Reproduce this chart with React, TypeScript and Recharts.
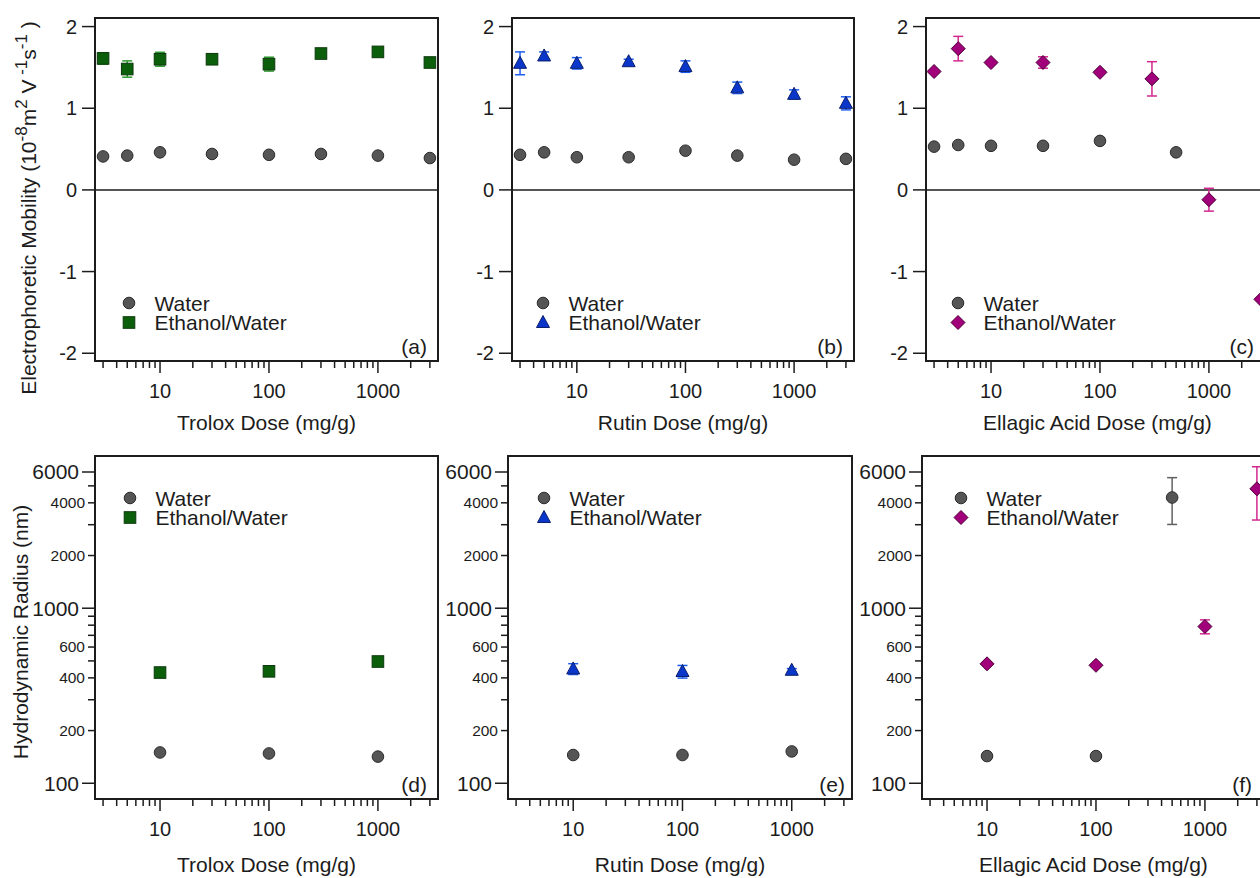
import React from 'react'
import { ScatterChart, Scatter, XAxis, YAxis, ErrorBar, ReferenceArea, ReferenceLine, Legend } from 'recharts'

const FONT = '"Liberation Sans", Arial, Helvetica, sans-serif'
const INK = '#1c1c1c'

// shared axes
const doseDomain = [2.53, 3560]
const doseTicks = [3, 4, 5, 6, 7, 8, 9, 10, 20, 30, 40, 50, 60, 70, 80, 90, 100, 200, 300, 400, 500, 600, 700, 800, 900, 1000, 2000, 3000]
const doseLabels = [10, 100, 1000]
const mobilityDomain = [-2.095, 2.105]
const mobilityTicks = [-2, -1, 0, 1, 2]
const radiusDomain = [81.3, 7406]
const radiusTicks = [100, 200, 300, 400, 500, 600, 700, 800, 900, 1000, 2000, 3000, 4000, 5000, 6000]
const radiusBigLabels = [100, 1000, 6000]
const radiusSmallLabels = [200, 400, 600, 2000, 4000]

// electrophoretic mobility (10^-8 m2 V-1 s-1)
const mobilityDose = [3, 5, 10, 30, 100, 300, 1000, 3000]
const troloxWaterMob = [0.41, 0.42, 0.46, 0.44, 0.43, 0.44, 0.42, 0.39]
const troloxEthMob = [1.61, 1.48, 1.60, 1.60, 1.54, 1.67, 1.69, 1.56]
const troloxEthMobErr = [0.07, 0.1, 0.085, 0.05, 0.085, 0.02, 0.02, 0.02]
const rutinWaterMob = [0.43, 0.46, 0.40, 0.40, 0.48, 0.42, 0.37, 0.38]
const rutinEthMob = [1.55, 1.64, 1.55, 1.57, 1.51, 1.25, 1.17, 1.06]
const rutinEthMobErr = [0.14, 0.05, 0.07, 0.03, 0.07, 0.07, 0.055, 0.08]
const ellagicWaterMobDose = [3, 5, 10, 30, 100, 500]
const ellagicWaterMob = [0.53, 0.55, 0.54, 0.54, 0.60, 0.46]
const ellagicEthMob = [1.45, 1.73, 1.56, 1.56, 1.44, 1.36, -0.12, -1.34]
const ellagicEthMobErr = [0.02, 0.15, 0.02, 0.07, 0.02, 0.21, 0.14, 0.02]

// hydrodynamic radius (nm)
const radiusDose = [10, 100, 1000]
const troloxWaterRad = [150, 148, 142]
const troloxEthRad = [429, 436, 496]
const troloxEthRadErr = [8, 8, 8]
const rutinWaterRad = [145, 145, 152]
const rutinEthRad = [450, 435, 442]
const rutinEthRadErr = [32, 36, 10]
const ellagicWaterRadDose = [10, 100, 500]
const ellagicWaterRad = [143, 143, 4290]
const ellagicWaterRadErr = [0, 0, 1280]
const ellagicEthRadDose = [10, 100, 1000, 3000]
const ellagicEthRad = [481, 472, 786, 4810]
const ellagicEthRadErr = [10, 10, 72, 1620]

const water = { name: 'Water', kind: 'circle', fill: '#555555', stroke: '#2a2a2a', errColor: '#606060' }
const green = { name: 'Ethanol/Water', kind: 'square', fill: '#0b5f0b', stroke: '#0c380c', errColor: '#2f9a2f' }
const blue = { name: 'Ethanol/Water', kind: 'triangle', fill: '#0a37c9', stroke: '#0b1f6e', errColor: '#1c5cf0' }
const magenta = { name: 'Ethanol/Water', kind: 'diamond', fill: '#a1007a', stroke: '#4d0037', errColor: '#d2288f' }

const zip = (x: number[], y: number[], err?: number[]) => x.map((v, i) => ({ x: v, y: y[i], err: err ? err[i] : 0 }))

const Marker = ({ cx, cy, s }: any) => {
    const common = { fill: s.fill, stroke: s.stroke, strokeWidth: 1 }
    if (s.kind === 'circle') return <circle cx={cx} cy={cy} r={5.8} {...common} />
    if (s.kind === 'square') return <rect x={cx - 5.8} y={cy - 5.8} width={11.6} height={11.6} {...common} />
    if (s.kind === 'triangle') return <polygon points={`${cx},${cy - 7} ${cx + 6.5},${cy + 5} ${cx - 6.5},${cy + 5}`} {...common} />
    return <polygon points={`${cx},${cy - 7} ${cx + 7},${cy} ${cx},${cy + 7} ${cx - 7},${cy}`} {...common} />
}

const DoseTick = (props: any) => {
    const { x, y, payload } = props
    const v = payload?.value
    const major = doseLabels.includes(v)
    return (
        <g>
            <line x1={x} x2={x} y1={y} y2={y + (major ? 12 : 7)} stroke={INK} strokeWidth={1.5} />
            {major && <text x={x} y={y + 37} textAnchor="middle" fontSize={20} fill={INK} fontFamily={FONT}>{v}</text>}
        </g>
    )
}

const MobTick = (props: any) => {
    const { x, y, payload } = props
    return (
        <g>
            <line x1={x - 13} x2={x} y1={y} y2={y} stroke={INK} strokeWidth={1.5} />
            <text x={x - 18} y={y} dy="0.35em" textAnchor="end" fontSize={20} fill={INK} fontFamily={FONT}>{payload?.value}</text>
        </g>
    )
}

const RadTick = (props: any) => {
    const { x, y, payload } = props
    const v = payload?.value
    const big = radiusBigLabels.includes(v)
    const small = radiusSmallLabels.includes(v)
    return (
        <g>
            <line x1={x - (big ? 13 : 7)} x2={x} y1={y} y2={y} stroke={INK} strokeWidth={1.5} />
            {big && <text x={x - 16} y={y} dy="0.35em" textAnchor="end" fontSize={21} fill={INK} fontFamily={FONT}>{v}</text>}
            {small && <text x={x - 10} y={y} dy="0.35em" textAnchor="end" fontSize={15.5} fill={INK} fontFamily={FONT}>{v}</text>}
        </g>
    )
}

const XTitle = ({ viewBox, text, dy }: any) => (
    <text x={viewBox.x + viewBox.width / 2} y={viewBox.y + dy} textAnchor="middle" fontSize={21} fill={INK} fontFamily={FONT}>{text}</text>
)

const MobilityTitle = ({ viewBox }: any) => (
    <text transform={`translate(${viewBox.x + 31},${viewBox.y + 190}) rotate(-90)`} textAnchor="middle" fontSize={21} fill={INK} fontFamily={FONT}>
        Electrophoretic Mobility (10<tspan dy={-9} fontSize={17}>-8</tspan><tspan dy={9}>m</tspan><tspan dy={-9} fontSize={17}>2</tspan><tspan dy={9}> V</tspan><tspan dy={-9} fontSize={17}> -1</tspan><tspan dy={9}>s</tspan><tspan dy={-9} fontSize={17}>-1</tspan><tspan dy={9}> )</tspan>
    </text>
)

const RadiusTitle = ({ viewBox }: any) => (
    <text transform={`translate(${viewBox.x + 23},${viewBox.y + 176}) rotate(-90)`} textAnchor="middle" fontSize={21} fill={INK} fontFamily={FONT}>
        Hydrodynamic Radius (nm)
    </text>
)

const Tag = ({ viewBox, text, dx }: any) => (
    <text x={viewBox.x + viewBox.width - dx} y={viewBox.y + viewBox.height - 7} textAnchor="end" fontSize={21} fill={INK} fontFamily={FONT}>{text}</text>
)

const LegendBox = ({ series }: any) => (
    <svg width={240} height={44} style={{ display: 'block', overflow: 'visible' }}>
        {series.map((s: any, i: number) => (
            <g key={s.name}>
                <Marker cx={9} cy={10 + i * 19.5} s={s} />
                <text x={34.5} y={17.5 + i * 19.5} fontSize={21} fill={INK} fontFamily={FONT}>{s.name}</text>
            </g>
        ))}
    </svg>
)

const panels = [
    {
        id: 'a', kind: 'mob', left: 95, top: 18, w: 343, h: 343, xTitle: 'Trolox Dose (mg/g)', tagDx: 11, lx: 34, ly: 285, yTitle: 'mob',
        series: [{ ...water, data: zip(mobilityDose, troloxWaterMob) }, { ...green, data: zip(mobilityDose, troloxEthMob, troloxEthMobErr) }],
    },
    {
        id: 'b', kind: 'mob', left: 512, top: 18, w: 342, h: 343, xTitle: 'Rutin Dose (mg/g)', tagDx: 11, lx: 31, ly: 285,
        series: [{ ...water, data: zip(mobilityDose, rutinWaterMob) }, { ...blue, data: zip(mobilityDose, rutinEthMob, rutinEthMobErr) }],
    },
    {
        id: 'c', kind: 'mob', left: 926, top: 18, w: 343, h: 343, xTitle: 'Ellagic Acid Dose (mg/g)', tagDx: 15, lx: 32, ly: 285,
        series: [{ ...water, data: zip(ellagicWaterMobDose, ellagicWaterMob) }, { ...magenta, data: zip(mobilityDose, ellagicEthMob, ellagicEthMobErr) }],
    },
    {
        id: 'd', kind: 'rad', left: 95, top: 456, w: 343, h: 343, xTitle: 'Trolox Dose (mg/g)', tagDx: 11, lx: 35, ly: 42, yTitle: 'rad',
        series: [{ ...water, data: zip(radiusDose, troloxWaterRad) }, { ...green, data: zip(radiusDose, troloxEthRad, troloxEthRadErr) }],
    },
    {
        id: 'e', kind: 'rad', left: 508, top: 456, w: 344, h: 343, xTitle: 'Rutin Dose (mg/g)', tagDx: 7, lx: 36, ly: 42,
        series: [{ ...water, data: zip(radiusDose, rutinWaterRad) }, { ...blue, data: zip(radiusDose, rutinEthRad, rutinEthRadErr) }],
    },
    {
        id: 'f', kind: 'rad', left: 922, top: 456, w: 343, h: 343, xTitle: 'Ellagic Acid Dose (mg/g)', tagDx: 13, lx: 38.5, ly: 41.5,
        series: [{ ...water, data: zip(ellagicWaterRadDose, ellagicWaterRad, ellagicWaterRadErr) }, { ...magenta, data: zip(ellagicEthRadDose, ellagicEthRad, ellagicEthRadErr) }],
    },
]

const ML = 90
const MT = 12
const MR = 12
const XB = 80

const Panel = ({ p }: any) => {
    const isMob = p.kind === 'mob'
    const yDomain = isMob ? mobilityDomain : radiusDomain
    const yLabel = p.yTitle === 'mob' ? <MobilityTitle /> : p.yTitle === 'rad' ? <RadiusTitle /> : undefined
    return (
        <div style={{ position: 'absolute', left: p.left - ML, top: p.top - MT }}>
            <ScatterChart width={ML + p.w + MR} height={MT + p.h + XB} margin={{ top: MT, right: MR, bottom: 0, left: 0 }}>
                <XAxis type="number" dataKey="x" scale="log" domain={doseDomain} allowDataOverflow ticks={doseTicks} interval={0}
                    tick={<DoseTick />} tickLine={false} axisLine={false} tickSize={0} tickMargin={0} height={XB}
                    label={<XTitle text={p.xTitle} dy={isMob ? 69 : 73} />} />
                <YAxis type="number" dataKey="y" scale={isMob ? 'linear' : 'log'} domain={yDomain} allowDataOverflow
                    ticks={isMob ? mobilityTicks : radiusTicks} interval={0} tick={isMob ? <MobTick /> : <RadTick />}
                    tickLine={false} axisLine={false} tickSize={0} tickMargin={0} width={ML} label={yLabel} />
                {isMob && <ReferenceLine y={0} stroke={INK} strokeWidth={1.5} ifOverflow="visible" />}
                <ReferenceArea x1={doseDomain[0]} x2={doseDomain[1]} y1={yDomain[0]} y2={yDomain[1]} fill="none" fillOpacity={0}
                    stroke={INK} strokeWidth={2} ifOverflow="visible" label={<Tag text={`(${p.id})`} dx={p.tagDx} />} />
                {p.series.map((s: any) => (
                    <Scatter key={s.kind} name={s.name} data={s.data} isAnimationActive={false}
                        shape={(sp: any) => <Marker cx={sp.cx} cy={sp.cy} s={s} />}>
                        <ErrorBar dataKey="err" direction="y" width={5} stroke={s.errColor} strokeWidth={1.5} isAnimationActive={false} />
                    </Scatter>
                ))}
                <Legend layout="vertical" align="center" verticalAlign="middle"
                    wrapperStyle={{ left: ML + p.lx - 9, top: MT + p.ly - 10, width: 'auto', height: 'auto' }}
                    content={() => <LegendBox series={p.series} />} />
            </ScatterChart>
        </div>
    )
}

const App = () => {
    return (
        <div style={{ position: 'absolute', left: 0, top: 0, width: 1260, height: 878, overflow: 'hidden', background: '#fff', fontFamily: FONT }}>
            {panels.map((p) => <Panel key={p.id} p={p} />)}
        </div>
    )
}

export default App
